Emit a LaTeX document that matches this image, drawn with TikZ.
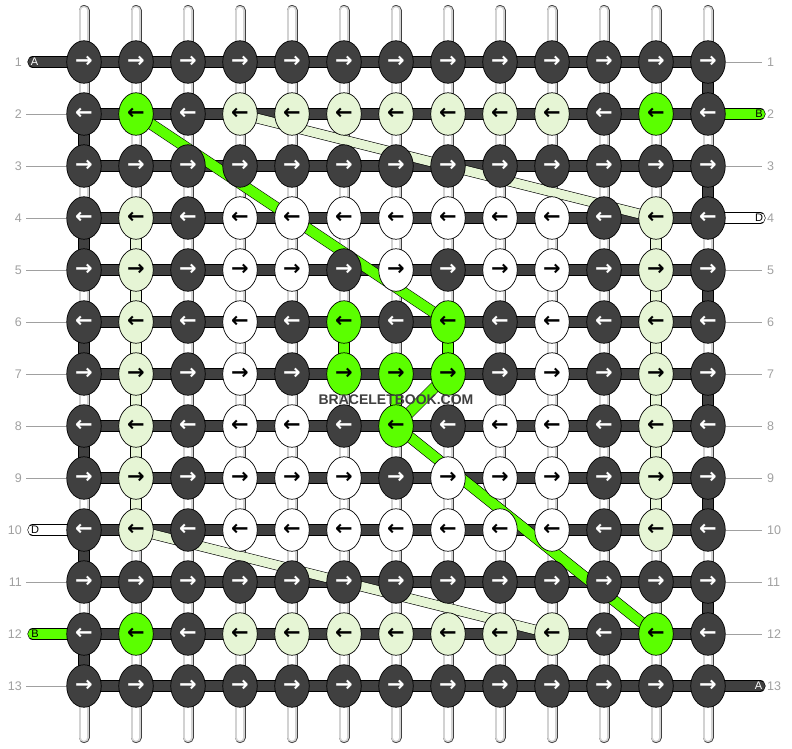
\documentclass[tikz,border=0pt]{standalone}
\usepackage{fontspec}
\setmainfont{Liberation Sans}
\newfontfamily\arrowfont{DejaVu Sans}
\usetikzlibrary{shapes.geometric}
\definecolor{knotdark}{HTML}{404040}
\definecolor{knotgreen}{HTML}{5BFF00}
\definecolor{knotlight}{HTML}{E6F5D5}
\definecolor{labelgray}{HTML}{A0A0A0}
\colorlet{knot-d}{knotdark}
\colorlet{knot-g}{knotgreen}
\colorlet{knot-l}{knotlight}
\colorlet{knot-w}{white}
\colorlet{arr-d}{white}
\colorlet{arr-g}{black}
\colorlet{arr-l}{black}
\colorlet{arr-w}{black}

\begin{document}
\begin{tikzpicture}[x=1pt,y=-1pt,
    knot/.style={ellipse,draw=black,line width=0.7pt,minimum width=34.5pt,minimum height=42.5pt,inner sep=0pt,font=\arrowfont\bfseries\fontsize{21}{21}\selectfont},
    warp/.style={line width=11pt,black!75,line cap=round},
    warpin/.style={line width=9.4pt,gray!35,line cap=round},
    warpcore/.style={line width=6.4pt,white,line cap=round},
    band/.style={line width=0.6pt,draw=black,double distance=10pt},
    tail/.style={band,line cap=round},
    trail/.style={line width=0.6pt,draw=black,double distance=9pt},
    rowlabel/.style={text=labelgray,font=\fontsize{12.5}{12.5}\selectfont,inner sep=0pt},
    tick/.style={labelgray,line width=0.8pt},
    tag/.style={font=\fontsize{11}{11}\selectfont,inner sep=0pt}]
    \useasboundingbox (0,0) rectangle (792,748);

    \foreach \r in {1,...,13}
        \foreach \c in {0,...,12}
            \coordinate (p-\r-\c) at ({84+52*\c},{62+52*(\r-1)});

    \foreach \c in {0,...,12}{
        \coordinate (top-\c) at ({84+52*\c},10.5);
        \coordinate (bot-\c) at ({84+52*\c},737.5);
        \draw[warp] (top-\c) -- (bot-\c);
        \draw[warpin] (top-\c) -- (bot-\c);
        \draw[warpcore] (top-\c) -- (bot-\c);
    }

    \foreach \r in {2,4,...,12}{
        \pgfmathtruncatemacro\s{\r+1}
        \draw[band,double=knotdark] (p-\r-0) -- (p-\s-0);
    }
    \foreach \r in {1,3,...,11}{
        \pgfmathtruncatemacro\s{\r+1}
        \draw[band,double=knotdark] (p-\r-12) -- (p-\s-12);
    }
    \foreach \r in {4,...,9}{
        \pgfmathtruncatemacro\s{\r+1}
        \draw[band,double=knotlight] (p-\r-1) -- (p-\s-1);
        \draw[band,double=knotlight] (p-\r-11) -- (p-\s-11);
    }
    \draw[band,double=knotgreen] (p-6-5) -- (p-7-5);
    \draw[band,double=knotgreen] (p-7-6) -- (p-8-6);
    \draw[band,double=knotgreen] (p-6-7) -- (p-7-7);

    \foreach \r in {1,...,13}
        \draw[band,double=knotdark] (p-\r-0) -- (p-\r-12);

    \coordinate (inA) at (33,62);
    \coordinate (outA) at (760,686);
    \coordinate (inB) at (760,114);
    \coordinate (outB) at (33,634);
    \coordinate (inD) at (760,218);
    \coordinate (outD) at (33,530);
    \draw[tail,double=knotdark] (inA) -- (p-1-0);
    \draw[tail,double=knotdark] (p-13-12) -- (outA);
    \draw[tail,double=knotgreen] (p-2-12) -- (inB);
    \draw[tail,double=knotgreen] (outB) -- (p-12-0);
    \draw[tail,double=white] (p-4-12) -- (inD);
    \draw[tail,double=white] (outD) -- (p-10-0);
    \node[tag,text=white] (tagA1) at (34.5,62) {A};
    \node[tag,text=white] (tagA2) at (758.5,686) {A};
    \node[tag] (tagB1) at (759,114) {B};
    \node[tag] (tagB2) at (35,634) {B};
    \node[tag] (tagD1) at (759,218) {D};
    \node[tag] (tagD2) at (35,530) {D};

    \draw[band,double=knotgreen] (p-2-1) -- (p-6-7);
    \draw[band,double=knotgreen] (p-7-7) -- (p-8-6) -- (p-12-11);
    \draw[trail,double=knotlight] (p-2-3) -- (p-4-11);
    \draw[trail,double=knotlight] (p-10-1) -- (p-12-9);

    \foreach \r/\pat in {
        1/{d,d,d,d,d,d,d,d,d,d,d,d,d},
        2/{d,g,d,l,l,l,l,l,l,l,d,g,d},
        3/{d,d,d,d,d,d,d,d,d,d,d,d,d},
        4/{d,l,d,w,w,w,w,w,w,w,d,l,d},
        5/{d,l,d,w,w,d,w,d,w,w,d,l,d},
        6/{d,l,d,w,d,g,d,g,d,w,d,l,d},
        7/{d,l,d,w,d,g,g,g,d,w,d,l,d},
        8/{d,l,d,w,w,d,g,d,w,w,d,l,d},
        9/{d,l,d,w,w,w,d,w,w,w,d,l,d},
        10/{d,l,d,w,w,w,w,w,w,w,d,l,d},
        11/{d,d,d,d,d,d,d,d,d,d,d,d,d},
        12/{d,g,d,l,l,l,l,l,l,l,d,g,d},
        13/{d,d,d,d,d,d,d,d,d,d,d,d,d}}{
        \ifodd\r \def\arr{→}\else \def\arr{←}\fi
        \foreach \k [count=\c from 0] in \pat
            \node[knot,fill=knot-\k,text=arr-\k] (k-\r-\c) at (p-\r-\c) {\arr};
    }

    \foreach \r in {1,...,13}{
        \node[rowlabel,anchor=east] (ln-\r) at (22,{62+52*(\r-1)}) {\r};
        \node[rowlabel,anchor=west] (rn-\r) at (767,{62+52*(\r-1)}) {\r};
    }
    \foreach \r in {2,...,9,11,13}{
        \coordinate (lt-\r) at (26,{62+52*(\r-1)});
        \draw[tick] (lt-\r) -- (k-\r-0);
    }
    \foreach \r in {1,3,5,6,7,8,9,10,11,12}{
        \coordinate (rt-\r) at (762,{62+52*(\r-1)});
        \draw[tick] (k-\r-12) -- (rt-\r);
    }

    \node[font=\bfseries\fontsize{14}{14}\selectfont,text=knotdark,inner sep=0pt] (mark) at (396,399.5) {BRACELETBOOK.COM};
\end{tikzpicture}
\end{document}
